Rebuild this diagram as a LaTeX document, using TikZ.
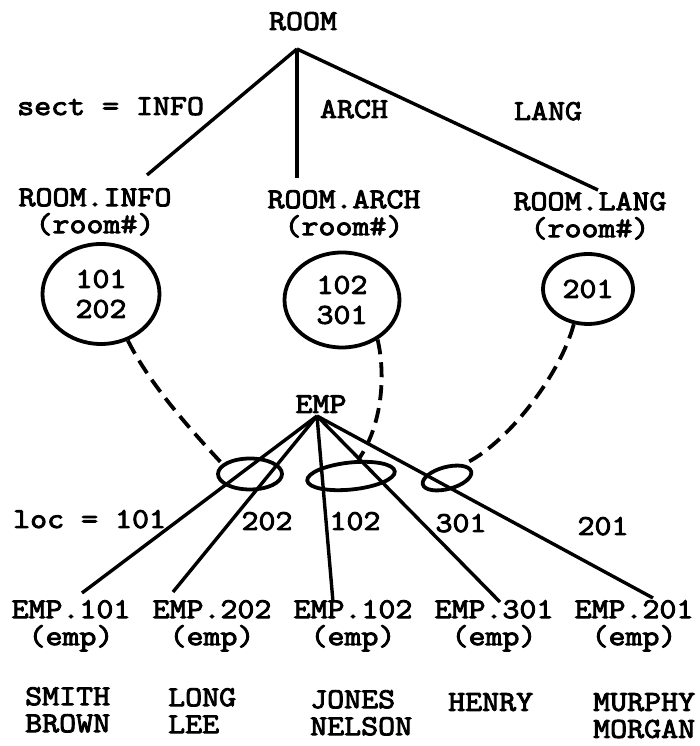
\documentclass[tikz,border=0pt]{standalone}
\usepackage{fontspec}
\setmonofont{Latin Modern Mono}[FakeStretch=1.145, FakeBold=3.2]
\usetikzlibrary{shapes.geometric}

\begin{document}
\begin{tikzpicture}[x=1pt, y=1pt,
  every node/.style={inner sep=0pt, font=\ttfamily\fontsize{28.8}{27}\selectfont},
  tbl/.style={align=center, anchor=north},
  names/.style={align=left, anchor=north west},
  vals/.style={draw, ellipse, line width=3.8pt, align=center,
    font=\ttfamily\fontsize{28.8}{30}\selectfont},
  grp/.style={draw, ellipse, line width=3.8pt},
  arc/.style={line width=3.4pt},
  link/.style={line width=3.8pt, dash pattern=on 15pt off 8pt}]
\useasboundingbox (0,0) rectangle (699,746);

% relation ROOM and its fragments
\node[anchor=base] (room) at (303,716) {ROOM};
\coordinate (roomtop) at (297,697);
\node[anchor=base west] (sectinfo) at (17,631) {sect = INFO};
\node[anchor=base] (sectarch) at (354,628) {ARCH};
\node[anchor=base] (sectlang) at (548,626) {LANG};
\node[tbl] (info) at (95,558) {ROOM.INFO\\(room\#)};
\node[tbl] (arch) at (344,556) {ROOM.ARCH\\(room\#)};
\node[tbl] (lang) at (590,554) {ROOM.LANG\\(room\#)};
\draw[arc] (roomtop) -- ([shift={(52,13)}]info.north);
\draw[arc] (roomtop) -- ([shift={(-47,12)}]arch.north);
\draw[arc] (roomtop) -- ([shift={(8,2)}]lang.north);

% room numbers of each fragment
\node[vals, minimum width=117pt, minimum height=100pt] (infoset) at (101,452) {101\\202};
\node[vals, minimum width=115pt, minimum height=95pt] (archset) at (342,446) {102\\301};
\node[vals, minimum width=90pt, minimum height=70pt] (langset) at (588,457) {201};

% groups of EMP fragments
\node[grp, minimum width=64pt, minimum height=31pt] (sel1) at (250,272) {};
\node[grp, minimum width=88pt, minimum height=27pt, rotate=6] (sel2) at (351,270) {};
\node[grp, minimum width=50pt, minimum height=22pt, rotate=15] (sel3) at (447,268) {};
\draw[link] (infoset.-60) .. controls (148,365) and (185,322) .. (sel1.160);
\draw[link] (archset.-48) .. controls (386,370) and (382,320) .. (sel2.60);
\draw[link] (langset.-112) .. controls (560,370) and (505,300) .. (sel3.25);

% relation EMP and its fragments
\node[anchor=base] (emp) at (321,333) {EMP};
\coordinate (empbot) at (317,330);
\node[anchor=base west] (loc) at (13,218) {loc = 101};
\node[anchor=base] (loc202) at (267,216) {202};
\node[anchor=base] (loc102) at (355,216) {102};
\node[anchor=base] (loc301) at (461,214) {301};
\node[anchor=base] (loc201) at (603,211) {201};
\node[tbl] (e101) at (71,146) {EMP.101\\(emp)};
\node[tbl] (e202) at (212,146) {EMP.202\\(emp)};
\node[tbl] (e102) at (353,146) {EMP.102\\(emp)};
\node[tbl] (e301) at (494,146) {EMP.301\\(emp)};
\node[tbl] (e201) at (634,146) {EMP.201\\(emp)};
\draw[arc] (empbot) -- ([shift={(11,7)}]e101.north);
\draw[arc] (empbot) -- ([shift={(-39,8)}]e202.north);
\draw[arc] (empbot) -- ([shift={(-20,-2)}]e102.north);
\draw[arc] (empbot) -- ([shift={(6,-2)}]e301.north);
\draw[arc] (empbot) -- ([shift={(19,2)}]e201.north);

% employees in each fragment
\node[names] (n101) at (25,59) {SMITH\\BROWN};
\node[names] (n202) at (168,58) {LONG\\LEE};
\node[names] (n102) at (310,56) {JONES\\NELSON};
\node[names] (n301) at (448,53) {HENRY};
\node[names] (n201) at (593,53) {MURPHY\\MORGAN};
\end{tikzpicture}
\end{document}
